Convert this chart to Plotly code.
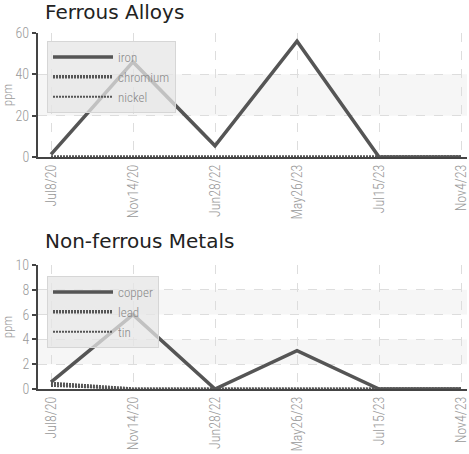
import plotly.graph_objects as go
from plotly.subplots import make_subplots

dates = ["Jul8/20", "Nov14/20", "Jun28/22", "May26/23", "Jul15/23", "Nov4/23"]

iron = [1.3, 46, 5.4, 56, 0, 0]
chromium = [0, 0, 0, 0, 0, 0]
nickel = [0, 0, 0, 0, 0, 0]

copper = [0.55, 6.0, 0, 3.1, 0, 0]
lead = [0.45, 0, 0, 0, 0, 0]
tin = [0.25, 0, 0, 0, 0, 0]

top_ticks = [0, 20, 40, 60]
bottom_ticks = [0, 2, 4, 6, 8, 10]
top_bands = [(20, 40)]
bottom_bands = [(2, 4), (6, 8)]

LINE = "#555555"
COND = "Roboto Condensed, sans-serif"
TICKFONT = dict(family=COND, size=14, color="#999999", weight=300)

W, H = 469, 454
ML, MT, MB, MR = 38, 33, 65, 2
PH = H - MT - MB


def py(screen_y):
    return (H - MB - screen_y) / PH


def px(screen_x):
    return (screen_x - ML) / (W - ML - MR)


fig = make_subplots(rows=2, cols=1, vertical_spacing=0.3)

styles = [
    dict(width=3.5, dash="solid"),
    dict(width=3.5, dash="2px,1px"),
    dict(width=2, dash="2px,1px"),
]

for i, (name, vals) in enumerate([("iron", iron), ("chromium", chromium), ("nickel", nickel)]):
    fig.add_trace(go.Scatter(x=dates, y=vals, name=name, mode="lines",
                             line=dict(color=LINE, **styles[i]), legend="legend"), row=1, col=1)
for i, (name, vals) in enumerate([("copper", copper), ("lead", lead), ("tin", tin)]):
    fig.add_trace(go.Scatter(x=dates, y=vals, name=name, mode="lines",
                             line=dict(color=LINE, **styles[i]), legend="legend2"), row=2, col=1)

for (a, b) in top_bands:
    fig.add_shape(type="rect", xref="x domain", yref="y", x0=0, x1=1, y0=a, y1=b,
                  fillcolor="#f6f6f6", line_width=0, layer="below")
for (a, b) in bottom_bands:
    fig.add_shape(type="rect", xref="x2 domain", yref="y2", x0=0, x1=1, y0=a, y1=b,
                  fillcolor="#f6f6f6", line_width=0, layer="below")

fig.update_xaxes(type="category", range=[-0.1585, 5.073], showgrid=True, gridcolor="#dddddd",
                 griddash="dash", gridwidth=1, tickangle=-90, tickfont=TICKFONT,
                 showline=True, linecolor="#444444", linewidth=2, ticks="", zeroline=False,
                 automargin=False)
fig.update_yaxes(showgrid=True, gridcolor="#dddddd", griddash="dash", gridwidth=1,
                 showline=True, linecolor="#444444", linewidth=2, ticks="outside",
                 ticklen=4, tickcolor="#444444", tickwidth=2, tickfont=TICKFONT, zeroline=False,
                 automargin=False,
                 title=dict(text="ppm", font=dict(family=COND, size=13, color="#999999", weight=300), standoff=4))
fig.update_yaxes(range=[0, 60], tickvals=top_ticks, row=1, col=1)
fig.update_yaxes(range=[0, 10], tickvals=bottom_ticks, row=2, col=1)

legfont = dict(family=COND, size=13, color="#888888", weight=300)
legbox = dict(bgcolor="rgba(230,230,230,0.75)", bordercolor="#d6d6d6", borderwidth=1,
              font=legfont, tracegroupgap=0, itemwidth=60, xanchor="left", yanchor="top")
fig.update_layout(
    width=W, height=H,
    margin=dict(l=ML, r=MR, t=MT, b=MB),
    plot_bgcolor="white", paper_bgcolor="white",
    xaxis=dict(domain=[0, 1]), xaxis2=dict(domain=[0, 1]),
    yaxis=dict(domain=[1 - 124 / PH, 1]), yaxis2=dict(domain=[0, 124 / PH]),
    legend=dict(x=px(47), y=py(41), **legbox),
    legend2=dict(x=px(47), y=py(276), **legbox),
    showlegend=True,
    annotations=[
        dict(text="Ferrous Alloys", xref="paper", yref="paper", x=px(43), y=py(12),
             xanchor="left", yanchor="middle", showarrow=False,
             font=dict(family="DejaVu Sans", size=20, color="#222222")),
        dict(text="Non-ferrous Metals", xref="paper", yref="paper", x=px(43), y=py(241),
             xanchor="left", yanchor="middle", showarrow=False,
             font=dict(family="DejaVu Sans", size=20, color="#222222")),
    ],
)

fig.write_html("out.html", config={"displayModeBar": False},
               post_script="document.body.style.margin='0';")
